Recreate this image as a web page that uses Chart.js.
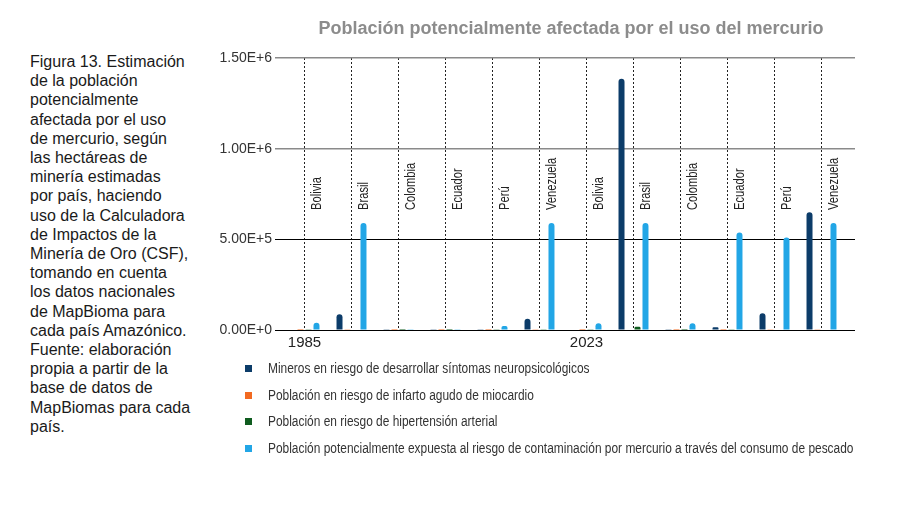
<!DOCTYPE html>
<html lang="es">
<head>
<meta charset="utf-8">
<title>Población potencialmente afectada por el uso del mercurio</title>
<script src="https://cdn.jsdelivr.net/npm/chart.js@4.4.1/dist/chart.umd.min.js"></script>
<style>
  html, body { margin: 0; padding: 0; background: #fff; }
  body { width: 899px; height: 519px; overflow: hidden; position: relative; font-family: "Liberation Sans", Arial, sans-serif; }
  #caption {
    position: absolute; left: 30px; top: 52px; width: 180px;
    font-size: 16px; line-height: 19.2px; color: #1a1a1a;
  }
  #chartBox { position: absolute; left: 200px; top: 0; width: 742px; height: 519px; }
  #legend { position: absolute; left: 244px; top: 0; }
  .legend-item { position: absolute; left: 0; height: 16px; display: flex; align-items: center; white-space: nowrap; }
  .legend-item i { display: inline-block; width: 7px; height: 7px; margin-left: 1px; }
  .legend-item span { display: inline-block; margin-left: 16px; font-size: 14px; color: #333; transform: scaleX(0.852); transform-origin: left center; }
</style>
</head>
<body>
<div id="caption">Figura 13. Estimación<br>de la población<br>potencialmente<br>afectada por el uso<br>de mercurio, según<br>las hectáreas de<br>minería estimadas<br>por país, haciendo<br>uso de la Calculadora<br>de Impactos de la<br>Minería de Oro (CSF),<br>tomando en cuenta<br>los datos nacionales<br>de MapBioma para<br>cada país Amazónico.<br>Fuente: elaboración<br>propia a partir de la<br>base de datos de<br>MapBiomas para cada<br>país.</div>
<div id="chartBox"><canvas id="mercurioChart"></canvas></div>
<div id="legend"></div>
<script>
// países por año (1985 y 2023)
const categories = [
  "Bolivia", "Brasil", "Colombia", "Ecuador", "Perú", "Venezuela",
  "Bolivia", "Brasil", "Colombia", "Ecuador", "Perú", "Venezuela"
];
const yearTicks = ["1985", "", "", "", "", "", "2023", "", "", "", "", ""];
const yTickLabels = ["0.00E+0", "5.00E+5", "1.00E+6", "1.50E+6"];

const mineros = [3000, 87000, 1500, 1000, 4000, 62000, 2500, 1385000, 2000, 15000, 92000, 650000];
const infarto = [500, 1500, 300, 200, 600, 1200, 500, 2500, 300, 400, 1200, 1500];
const hipertension = [800, 3000, 500, 300, 900, 2000, 800, 18000, 500, 900, 2500, 3000];
const pescado = [40000, 590000, 2000, 1500, 22000, 590000, 37000, 590000, 37000, 538000, 510000, 590000];

const font = '"Liberation Sans", Arial, sans-serif';

function gridColor(ctx) {
  return ctx.tick && ctx.tick.value >= 1000000 ? "#8a8a8a" : "#000";
}
function gridWidth(ctx) {
  return ctx.tick && ctx.tick.value >= 1000000 ? 1.5 : 1;
}

// nombres de país verticales junto a cada línea punteada
const countryLabels = {
  id: "countryLabels",
  afterDatasetsDraw(chart) {
    const { ctx, scales: { x } } = chart;
    ctx.save();
    ctx.font = "14px " + font;
    ctx.fillStyle = "#222";
    ctx.textAlign = "left";
    ctx.textBaseline = "alphabetic";
    categories.forEach((name, i) => {
      ctx.save();
      ctx.translate(x.getPixelForValue(i) + 16.5, 210);
      ctx.rotate(-Math.PI / 2);
      ctx.scale(0.8, 1);
      ctx.fillText(name, 0, 0);
      ctx.restore();
    });
    ctx.restore();
  }
};

const chart = new Chart(document.getElementById("mercurioChart"), {
  type: "bar",
  data: {
    labels: categories,
    datasets: [
      { label: "Mineros en riesgo de desarrollar síntomas neuropsicológicos", data: mineros, backgroundColor: "#0c3c69" },
      { label: "Población en riesgo de infarto agudo de miocardio", data: infarto, backgroundColor: "#f26a21" },
      { label: "Población en riesgo de hipertensión arterial", data: hipertension, backgroundColor: "#0f5c1f" },
      { label: "Población potencialmente expuesta al riesgo de contaminación por mercurio a través del consumo de pescado", data: pescado, backgroundColor: "#22a6e6" }
    ]
  },
  options: {
    responsive: true,
    maintainAspectRatio: false,
    animation: false,
    datasets: {
      bar: { categoryPercentage: 0.68, barPercentage: 0.75, borderRadius: 3 }
    },
    layout: { padding: { left: 0, right: 0, top: 0, bottom: 149 } },
    scales: {
      x: {
        grid: { offset: false, color: "#222", lineWidth: 1, drawTicks: false },
        border: { display: false, dash: [2, 2] },
        ticks: {
          autoSkip: false,
          maxRotation: 0,
          padding: 4,
          color: "#222",
          font: { family: font, size: 15 },
          callback: (v, i) => yearTicks[i]
        },
        afterFit: (scale) => { scale.height = 40; }
      },
      y: {
        min: 0,
        max: 1500000,
        ticks: {
          stepSize: 500000,
          padding: 3,
          color: "#333",
          font: { family: font, size: 14 },
          callback: (v, i) => yTickLabels[i]
        },
        grid: { color: gridColor, lineWidth: gridWidth, tickLength: 6 },
        border: { display: false },
        afterFit: (scale) => { scale.width = 81; }
      },
      y2: {
        position: "right",
        min: 0,
        max: 1500000,
        ticks: { stepSize: 500000, display: false },
        grid: { drawOnChartArea: false, color: gridColor, lineWidth: gridWidth, tickLength: 10 },
        border: { display: false },
        afterFit: (scale) => { scale.width = 97; }
      }
    },
    plugins: {
      legend: { display: false },
      tooltip: { enabled: false },
      title: {
        display: true,
        text: "Población potencialmente afectada por el uso del mercurio",
        color: "#8c8c8c",
        font: { family: font, size: 18, weight: "bold" },
        padding: { top: 18.5, bottom: 17.9 }
      }
    }
  },
  plugins: [countryLabels]
});

// leyenda vertical en HTML
const legendEl = document.getElementById("legend");
const rowCenters = [368, 395, 421, 448];
chart.data.datasets.forEach((ds, i) => {
  const row = document.createElement("div");
  row.className = "legend-item";
  row.style.top = (rowCenters[i] - 8) + "px";
  row.innerHTML = `<i style="background:${ds.backgroundColor}"></i><span>${ds.label}</span>`;
  legendEl.appendChild(row);
});
</script>
</body>
</html>
